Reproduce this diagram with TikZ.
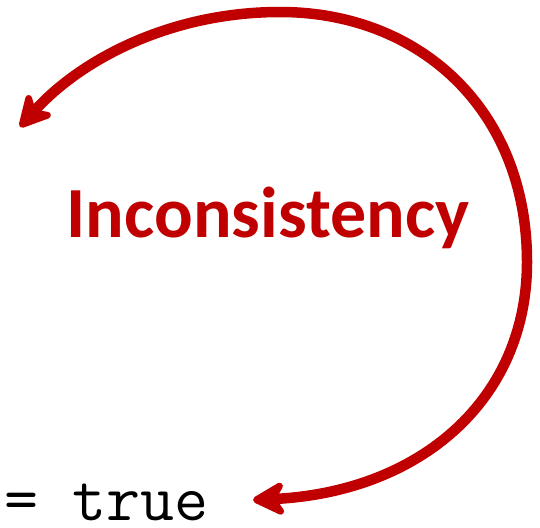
\documentclass[tikz,border=0pt]{standalone}
\usepackage{fontspec}
\newfontfamily\headfont{Carlito}
\usepackage{xcolor}
\definecolor{loopred}{HTML}{C00000}
\usepackage{tikz}
\usetikzlibrary{positioning,arrows.meta}
\tikzset{
    cyclearrow/.style={
        {Stealth[length=40pt, width=42pt, inset=13pt, round]}-{Stealth[length=40pt, width=42pt, inset=13pt, round]},
        line width=10.5pt,
        draw=loopred,
    },
    heading/.style={
        text=loopred,
        font=\headfont\bfseries\fontsize{72}{78}\selectfont,
        inner sep=0pt,
    },
    codetext/.style={
        text=black,
        font=\ttfamily\fontsize{66}{68}\selectfont,
        inner sep=0pt,
        text depth=0pt,
    },
}
\begin{document}
\begin{tikzpicture}[x=1pt, y=-1pt]
    \useasboundingbox (0,0) rectangle (540,527);
    \node[heading] (incons) at (268,218) {Inconsistency};
    \node[codetext, anchor=base west] (code) at (4,520) {= true};
    \coordinate (tipbot) at (253,500);
    \coordinate (tiptop) at (20,127);
    % loop from the code back to the top
    \draw[cyclearrow] (tipbot) .. controls (420,492) and (527,400) .. (527,262)
        .. controls (527,110) and (420,12) .. (280,12)
        .. controls (170,12) and (80,60) .. (tiptop);
\end{tikzpicture}
\end{document}
